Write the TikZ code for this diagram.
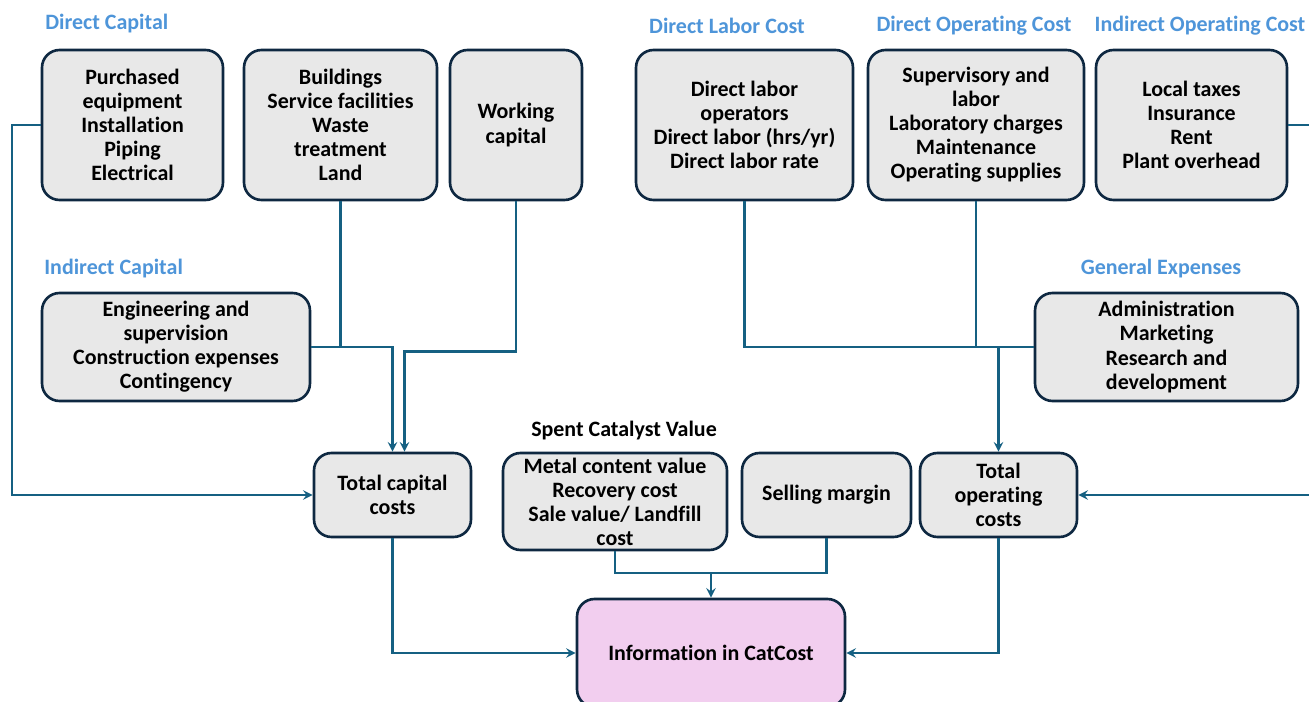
\documentclass[tikz,border=0pt]{standalone}
\usepackage{fontspec}
\setmainfont{Carlito}[Ligatures=NoCommon]
\usetikzlibrary{arrows}
\definecolor{boxline}{HTML}{0E2841}
\definecolor{boxfill}{HTML}{E8E8E8}
\definecolor{wirecol}{HTML}{156082}
\definecolor{headblue}{HTML}{4E95D9}
\definecolor{pinkfill}{HTML}{F2CEEF}

\begin{document}
\begin{tikzpicture}[x=0.02cm,y=-0.02cm,>=stealth,
    box/.style={draw=boxline,fill=boxfill,line width=1.5pt,rounded corners=0.35cm,
      align=center,inner sep=1pt,font=\bfseries\fontsize{12.5}{13.7}\selectfont},
    hd/.style={inner sep=0pt,text=headblue,font=\bfseries\fontsize{12.5}{14}\selectfont},
    wire/.style={draw=wirecol,line width=1.4pt}]
        \useasboundingbox (0,0) rectangle (1309,702);

        % headings
        \node[hd,anchor=west] (hDC) at (45,24) {Direct Capital};
        \node[hd,anchor=west] (hIC) at (44,269) {Indirect Capital};
        \node[hd] (hDL) at (727,26) {Direct Labor Cost};
        \node[hd] (hDO) at (974,26) {Direct Operating Cost};
        \node[hd] (hIO) at (1200,26) {Indirect Operating Cost};
        \node[hd] (hGE) at (1161,269) {General Expenses};
        \node[hd,text=black] (hSC) at (624,431) {Spent Catalyst Value};

        % top row
        \node[box,minimum width=3.62cm,minimum height=3cm] (DC1) at (132.5,125) {Purchased\\equipment\\Installation\\Piping\\Electrical};
        \node[box,minimum width=3.86cm,minimum height=3cm] (DC2) at (340.5,125) {Buildings\\Service facilities\\Waste\\treatment\\Land};
        \node[box,minimum width=2.64cm,minimum height=3cm] (DC3) at (516,125) {Working\\capital};
        \node[box,minimum width=4.34cm,minimum height=3cm] (DL) at (744.5,125) {Direct labor\\operators\\Direct labor (hrs/yr)\\Direct labor rate};
        \node[box,minimum width=4.32cm,minimum height=3cm] (DO) at (976,125) {Supervisory and\\labor\\Laboratory charges\\Maintenance\\Operating supplies};
        \node[box,minimum width=3.82cm,minimum height=3cm] (IO) at (1191.5,125) {Local taxes\\Insurance\\Rent\\Plant overhead};

        % middle row
        \node[box,minimum width=5.36cm,minimum height=2.16cm] (IC) at (176,347) {Engineering and\\supervision\\Construction expenses\\Contingency};
        \node[box,minimum width=5.26cm,minimum height=2.16cm] (GE) at (1166.5,347) {Administration\\Marketing\\Research and\\development};

        % bottom row
        \node[box,minimum width=3.14cm,minimum height=1.68cm] (TC) at (392.5,495) {Total capital\\costs};
        \node[box,minimum width=4.48cm,minimum height=1.94cm] (SC) at (615,501.5) {Metal content value\\Recovery cost\\Sale value/ Landfill\\cost};
        \node[box,minimum width=3.38cm,minimum height=1.68cm] (SM) at (826.5,495) {Selling margin};
        \node[box,minimum width=3.14cm,minimum height=1.68cm] (TO) at (998.5,495) {Total\\operating\\costs};
        \node[box,fill=pinkfill,minimum width=5.36cm,minimum height=2.16cm] (CC) at (711,653) {Information in CatCost};

        \coordinate (lft) at (12,125);
        \coordinate (rgt) at (1312,125);
        \coordinate (join) at (711,573);

        % capital side
        \draw[wire,->] (DC1.west) -- (lft) |- (TC.west);
        \draw[wire] (DC2.south) -- (DC2.south |- IC.east);
        \draw[wire,->] (IC.east) -| (TC.north);
        \draw[wire,->] (DC3.south) -- ++(0,150) -| ([xshift=0.24cm]TC.north);

        % operating side
        \draw[wire] (DL.south) |- (GE.west);
        \draw[wire] (DO.south) -- (DO.south |- GE.west);
        \draw[wire,->] (TO.north |- GE.west) -- (TO.north);
        \draw[wire,->] (IO.east) -- (rgt) |- (TO.east);

        % into CatCost
        \draw[wire] (SC.south) |- (join) -| (SM.south);
        \draw[wire,->] (join) -- (CC.north);
        \draw[wire,->] (TC.south) |- (CC.west);
        \draw[wire,->] (TO.south) |- (CC.east);
    \end{tikzpicture}
\end{document}
